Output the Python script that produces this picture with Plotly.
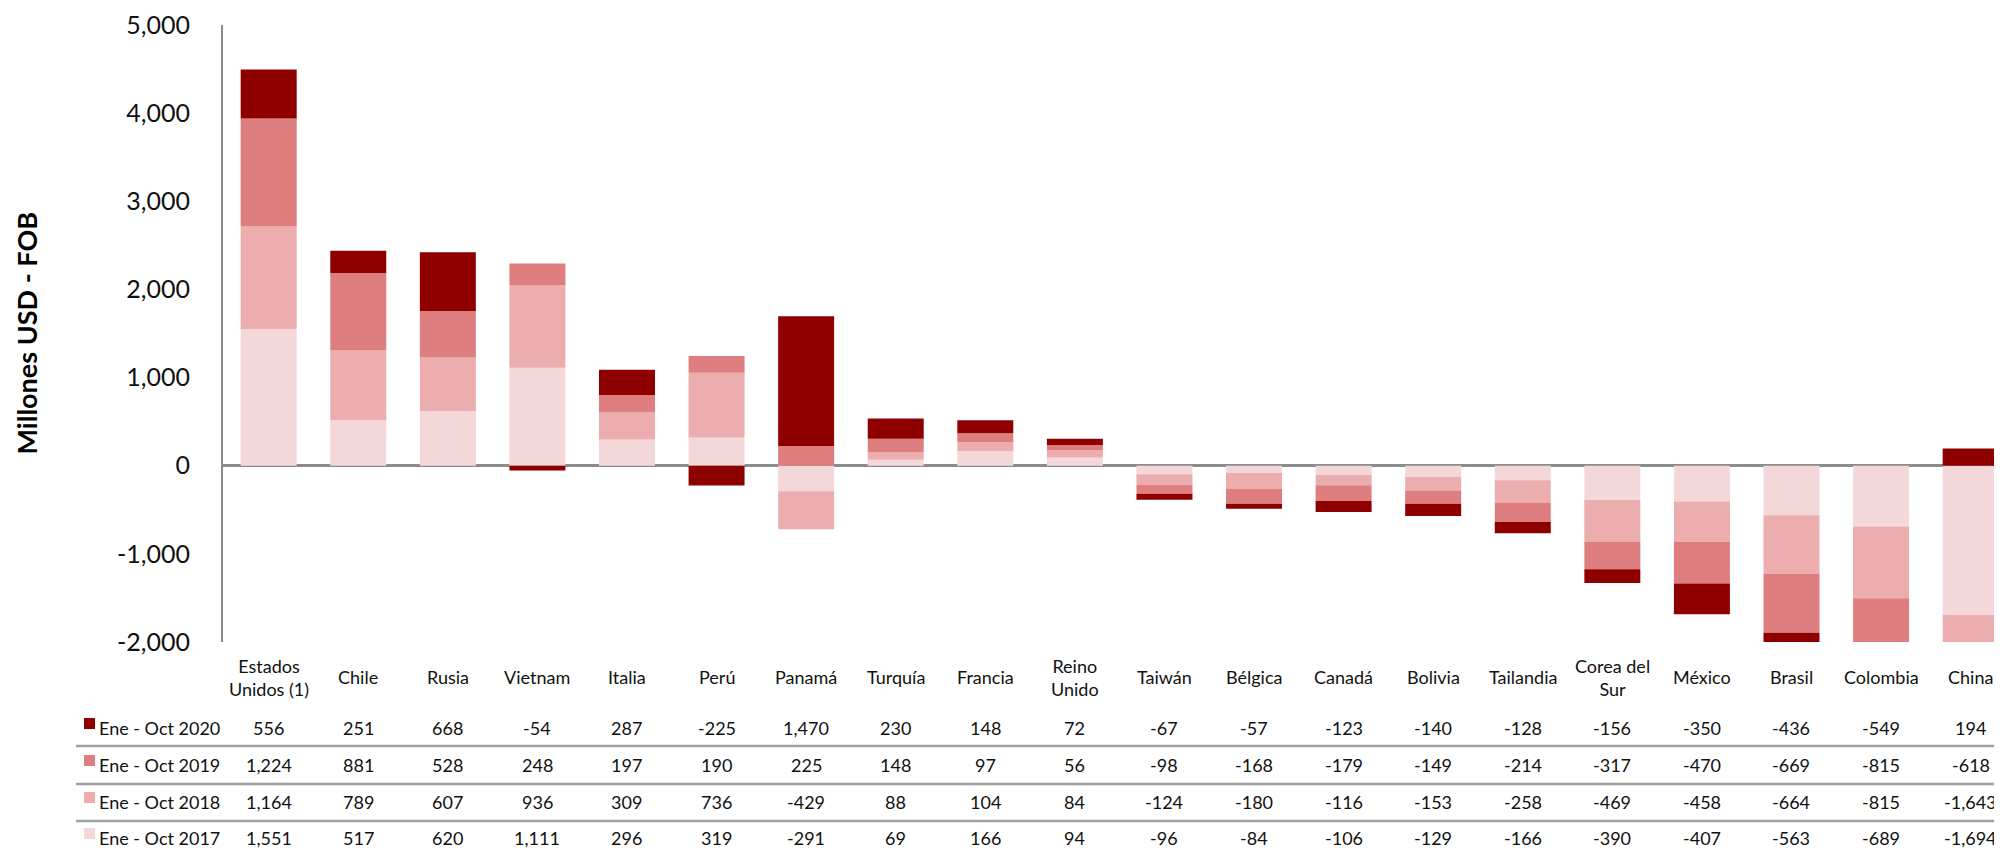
import plotly.graph_objects as go

countries = ["Estados Unidos (1)", "Chile", "Rusia", "Vietnam", "Italia", "Perú", "Panamá",
             "Turquía", "Francia", "Reino Unido", "Taiwán", "Bélgica", "Canadá", "Bolivia",
             "Tailandia", "Corea del Sur", "México", "Brasil", "Colombia", "China"]
country_labels = ["Estados<br>Unidos (1)", "Chile", "Rusia", "Vietnam", "Italia", "Perú", "Panamá",
                  "Turquía", "Francia", "Reino<br>Unido", "Taiwán", "Bélgica", "Canadá", "Bolivia",
                  "Tailandia", "Corea del<br>Sur", "México", "Brasil", "Colombia", "China"]

v2020 = [556, 251, 668, -54, 287, -225, 1470, 230, 148, 72, -67, -57, -123, -140, -128, -156, -350, -436, -549, 194]
v2019 = [1224, 881, 528, 248, 197, 190, 225, 148, 97, 56, -98, -168, -179, -149, -214, -317, -470, -669, -815, -618]
v2018 = [1164, 789, 607, 936, 309, 736, -429, 88, 104, 84, -124, -180, -116, -153, -258, -469, -458, -664, -815, -1643]
v2017 = [1551, 517, 620, 1111, 296, 319, -291, 69, 166, 94, -96, -84, -106, -129, -166, -390, -407, -563, -689, -1694]

series_names = ["Ene - Oct 2017", "Ene - Oct 2018", "Ene - Oct 2019", "Ene - Oct 2020"]
series_values = [v2017, v2018, v2019, v2020]
series_colors = ["#F4D7D8", "#EBADAD", "#DE7E7E", "#8E0000"]

y_ticks = [5000, 4000, 3000, 2000, 1000, 0, -1000, -2000]

FONT = "Lato"
OFF = 8  # page body margin
W, H = 2002 - OFF, 851 - OFF
ML, MR, MT, MB = 223 - OFF, 0, 25 - OFF, 209
plot_h = H - MT - MB
plot_w = W - ML - MR


def py(pix):
    """page pixel row -> paper y"""
    return (H - MB - (pix - OFF)) / plot_h


def px(pix):
    """page pixel column -> paper x"""
    return (pix - OFF - ML) / plot_w


fig = go.Figure()
for name, vals, col in zip(series_names, series_values, series_colors):
    fig.add_trace(go.Bar(x=countries, y=vals, name=name, marker=dict(color=col, line=dict(width=0)),
                         showlegend=False))

annotations = []
for c, lab in zip(countries, country_labels):
    annotations.append(dict(x=c, xref="x", y=py(677), yref="paper", text=lab, showarrow=False,
                            xanchor="center", yanchor="middle",
                            font=dict(family=FONT, size=18, color="#111")))

row_order = [3, 2, 1, 0]
row_centers = [728, 765, 802, 838]
shapes = []
for ri, rc in zip(row_order, row_centers):
    name = series_names[ri]
    vals = series_values[ri]
    for c, v in zip(countries, vals):
        annotations.append(dict(x=c, xref="x", y=py(rc), yref="paper", text=f"{v:,}", showarrow=False,
                                xanchor="center", yanchor="middle", borderpad=0,
                                font=dict(family=FONT, size=18, color="#111")))
    annotations.append(dict(x=px(98), xref="paper", y=py(rc), yref="paper", text=name, showarrow=False,
                            xanchor="left", yanchor="middle", borderpad=0,
                            font=dict(family=FONT, size=18, color="#111")))
    shapes.append(dict(type="rect", xref="paper", yref="paper", x0=px(84), x1=px(95),
                       y0=py(rc - 10), y1=py(rc + 1), fillcolor=series_colors[ri], line=dict(width=0)))

for ly in [746, 784, 821]:
    shapes.append(dict(type="line", xref="paper", yref="paper", x0=px(76), x1=1.0,
                       y0=py(ly), y1=py(ly), line=dict(color="#A0A0A0", width=2.5)))

annotations.append(dict(x=px(26), xref="paper", y=0.5, yref="paper", text="<b>Millones USD - FOB</b>",
                        textangle=-90, showarrow=False, xanchor="center", yanchor="middle",
                        font=dict(family=FONT, size=27, color="#000")))

fig.update_layout(
    width=W, height=H,
    margin=dict(l=ML, r=MR, t=MT, b=MB),
    barmode="relative",
    bargap=0.375,
    plot_bgcolor="white", paper_bgcolor="white",
    font=dict(family=FONT, color="#000"),
    annotations=annotations,
    shapes=shapes,
    xaxis=dict(type="category", categoryorder="array", categoryarray=countries,
               range=[-0.51, 19.35], showticklabels=False, showline=False, showgrid=False,
               zeroline=False, ticks=""),
    yaxis=dict(range=[-2000, 5000], tickvals=y_ticks, ticktext=[f"{v:,}" for v in y_ticks],
               showgrid=False, showline=True, linecolor="#8C8C8C", linewidth=2,
               zeroline=True, zerolinecolor="#8C8C8C", zerolinewidth=2.5,
               ticks="", ticklabelstandoff=26, layer="above traces",
               tickfont=dict(family=FONT, size=25, color="#111")),
)

fig.write_html("out.html")
